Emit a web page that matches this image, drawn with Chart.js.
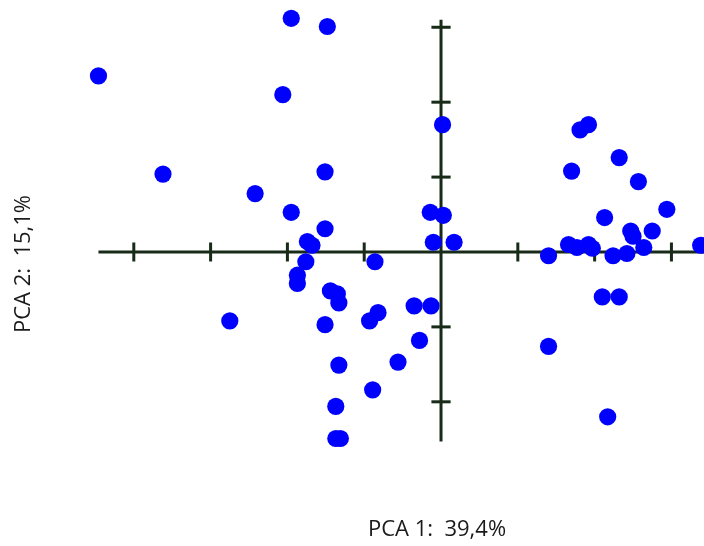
<!DOCTYPE html>
<html>
<head>
<meta charset="utf-8">
<script src="https://cdn.jsdelivr.net/npm/chart.js@4/dist/chart.umd.min.js"></script>
<style>
  html, body { margin: 0; padding: 0; background: #fff; }
  canvas { display: block; }
</style>
</head>
<body>
<canvas id="pcaChart" width="704" height="546"></canvas>
<script>
// PCA scores (component 1, component 2)
const pc1 = [
  -4.46, -1.95, -1.48, -2.06, -3.62, -2.42, -1.95, -1.51, -1.51, -1.74,
  -1.68, -1.76, -0.86, -1.87, -1.87, -1.44, -1.35, -1.33, -2.75, -1.51,
  -0.82, -0.93, -0.35, -0.13, -0.28, -0.56, -1.33, -0.89, -1.37, -1.37,
  -1.31, 0.02, -0.14, 0.03, -0.10, 0.17,
  1.81, 1.92, 2.32, 1.70, 2.57, 2.94, 2.13, 2.47, 2.50, 2.75,
  1.66, 1.77, 1.92, 1.97, 1.40, 2.24, 2.42, 2.64, 3.38, 2.10,
  2.32, 1.40, 2.17
];
const pc2 = [
  2.35, 3.12, 3.01, 2.10, 1.04, 0.78, 0.53, 1.07, 0.31, 0.14,
  0.09, -0.13, -0.13, -0.31, -0.42, -0.52, -0.56, -0.68, -0.92, -0.97,
  -0.81, -0.92, -0.72, -0.72, -1.18, -1.47, -1.51, -1.84, -2.06, -2.49,
  -2.49, 1.70, 0.53, 0.49, 0.13, 0.13,
  1.63, 1.70, 1.26, 1.08, 0.94, 0.57, 0.46, 0.28, 0.21, 0.28,
  0.10, 0.06, 0.10, 0.05, -0.05, -0.05, -0.02, 0.06, 0.09, -0.60,
  -0.60, -1.26, -2.20
];

// axis extents and tick positions
const axisX = [-4.46, 3.5];
const axisY = [-2.53, 3.10];
const ticksX = [-4, -3, -2, -1, 1, 2, 3];
const ticksY = [-2, -1, 1, 2, 3];

const titleX = 'PCA 1:  39,4%';
const titleY = 'PCA 2:  15,1%';

const axisColor = '#182a18';

const axisTitles = {
  id: 'axisTitles',
  afterDraw(chart) {
    const ctx = chart.ctx;
    ctx.save();
    ctx.fillStyle = '#1a1a1a';
    ctx.font = '22px "Open Sans"';
    ctx.textAlign = 'center';
    ctx.textBaseline = 'middle';
    ctx.fillText(titleX, 437, 530);
    ctx.translate(24, 264);
    ctx.rotate(-Math.PI / 2);
    ctx.fillText(titleY, 0, 0);
    ctx.restore();
  }
};

const pcaChart = new Chart(document.getElementById('pcaChart'), {
  type: 'scatter',
  data: {
    datasets: [
      {
        label: 'samples',
        data: pc1.map((x, i) => ({ x: x, y: pc2[i] })),
        backgroundColor: '#0000ff',
        borderWidth: 0,
        pointRadius: 8.6,
        order: 0
      },
      {
        label: 'axis x',
        data: axisX.map(x => ({ x: x, y: 0 })),
        showLine: true,
        borderColor: axisColor,
        borderWidth: 3,
        pointRadius: 0,
        order: 1
      },
      {
        label: 'axis y',
        data: axisY.map(y => ({ x: 0, y: y })),
        showLine: true,
        borderColor: axisColor,
        borderWidth: 3,
        pointRadius: 0,
        order: 1
      },
      {
        label: 'ticks x',
        data: ticksX.map(x => ({ x: x, y: 0 })),
        pointStyle: 'line',
        rotation: 90,
        pointRadius: 9.5,
        borderColor: axisColor,
        borderWidth: 3,
        order: 2
      },
      {
        label: 'ticks y',
        data: ticksY.map(y => ({ x: 0, y: y })),
        pointStyle: 'line',
        rotation: 0,
        pointRadius: 9.6,
        borderColor: axisColor,
        borderWidth: 3,
        order: 2
      }
    ]
  },
  options: {
    responsive: false,
    animation: false,
    clip: false,
    layout: { padding: 0, autoPadding: false },
    plugins: { legend: { display: false }, tooltip: { enabled: false } },
    scales: {
      x: { type: 'linear', display: false, min: -5.742, max: 3.424 },
      y: { type: 'linear', display: false, min: -3.925, max: 3.364 }
    }
  },
  plugins: [axisTitles]
});
</script>
</body>
</html>
